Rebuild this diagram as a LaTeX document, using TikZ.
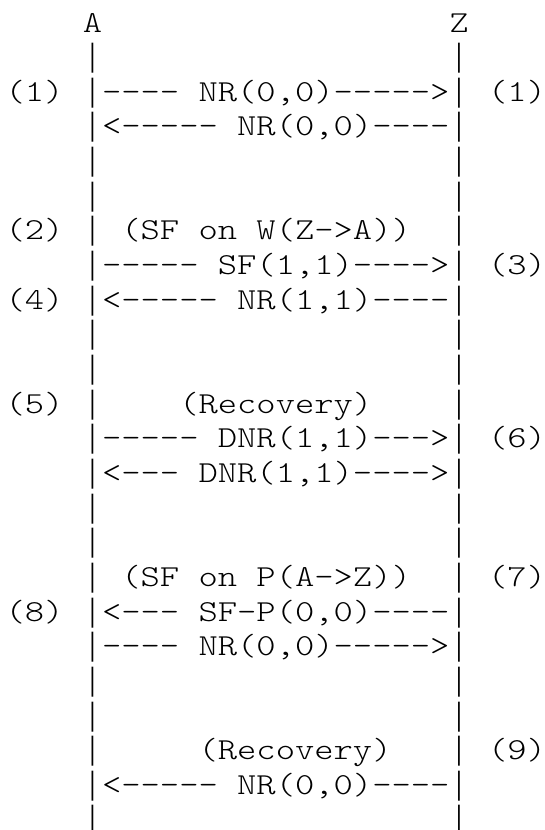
\documentclass[tikz,border=0pt]{standalone}
\usepackage{fontspec}
\usepackage{graphicx}
\newfontfamily\barfont{Liberation Mono}
\newcommand\vb{\makebox[\fontcharwd\font`\|][c]{\scalebox{0.55}[1]{\barfont\fontsize{32.2}{34.65}\selectfont|}}}
\begin{document}
\begin{tikzpicture}[x=1pt,y=1pt,
  rowtxt/.style={anchor=base west, inner sep=0pt, outer sep=0pt, transform shape,
    font=\ttfamily\fontseries{l}\fontsize{30.5}{34.65}\selectfont\frenchspacing}]
\useasboundingbox (0,0) rectangle (545,-830);
\begin{scope}[shift={(5.6,0)}, xscale=1.2053]
\node[rowtxt] (r0)  at (0,{-32-0*34.65})  {~~~~A~~~~~~~~~~~~~~~~~~Z};
\node[rowtxt] (r1)  at (0,{-32-1*34.65})  {~~~~\vb~~~~~~~~~~~~~~~~~~\vb};
\node[rowtxt] (r2)  at (0,{-32-2*34.65})  {(1)~\vb----~NR(0,0)----->\vb~(1)};
\node[rowtxt] (r3)  at (0,{-32-3*34.65})  {~~~~\vb<-----~NR(0,0)----\vb};
\node[rowtxt] (r4)  at (0,{-32-4*34.65})  {~~~~\vb~~~~~~~~~~~~~~~~~~\vb};
\node[rowtxt] (r5)  at (0,{-32-5*34.65})  {~~~~\vb~~~~~~~~~~~~~~~~~~\vb};
\node[rowtxt] (r6)  at (0,{-32-6*34.65})  {(2)~\vb~(SF~on~W(Z->A))~~\vb};
\node[rowtxt] (r7)  at (0,{-32-7*34.65})  {~~~~\vb-----~SF(1,1)---->\vb~(3)};
\node[rowtxt] (r8)  at (0,{-32-8*34.65})  {(4)~\vb<-----~NR(1,1)----\vb};
\node[rowtxt] (r9)  at (0,{-32-9*34.65})  {~~~~\vb~~~~~~~~~~~~~~~~~~\vb};
\node[rowtxt] (r10) at (0,{-32-10*34.65}) {~~~~\vb~~~~~~~~~~~~~~~~~~\vb};
\node[rowtxt] (r11) at (0,{-32-11*34.65}) {(5)~\vb~~~~(Recovery)~~~~\vb};
\node[rowtxt] (r12) at (0,{-32-12*34.65}) {~~~~\vb-----~DNR(1,1)--->\vb~(6)};
\node[rowtxt] (r13) at (0,{-32-13*34.65}) {~~~~\vb<---~DNR(1,1)---->\vb};
\node[rowtxt] (r14) at (0,{-32-14*34.65}) {~~~~\vb~~~~~~~~~~~~~~~~~~\vb};
\node[rowtxt] (r15) at (0,{-32-15*34.65}) {~~~~\vb~~~~~~~~~~~~~~~~~~\vb};
\node[rowtxt] (r16) at (0,{-32-16*34.65}) {~~~~\vb~(SF~on~P(A->Z))~~\vb~(7)};
\node[rowtxt] (r17) at (0,{-32-17*34.65}) {(8)~\vb<---~SF-P(0,0)----\vb};
\node[rowtxt] (r18) at (0,{-32-18*34.65}) {~~~~\vb----~NR(0,0)----->\vb};
\node[rowtxt] (r19) at (0,{-32-19*34.65}) {~~~~\vb~~~~~~~~~~~~~~~~~~\vb};
\node[rowtxt] (r20) at (0,{-32-20*34.65}) {~~~~\vb~~~~~~~~~~~~~~~~~~\vb};
\node[rowtxt] (r21) at (0,{-32-21*34.65}) {~~~~\vb~~~~~(Recovery)~~~\vb~(9)};
\node[rowtxt] (r22) at (0,{-32-22*34.65}) {~~~~\vb<-----~NR(0,0)----\vb};
\node[rowtxt] (r23) at (0,{-32-23*34.65}) {~~~~\vb~~~~~~~~~~~~~~~~~~\vb};
\end{scope}
\end{tikzpicture}
\end{document}
